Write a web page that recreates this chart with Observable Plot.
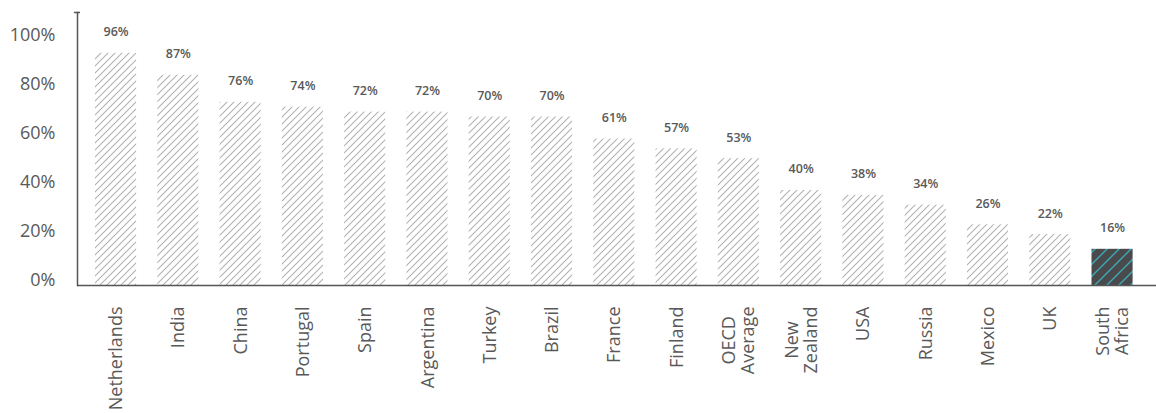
<!DOCTYPE html>
<html>
<head>
<meta charset="utf-8">
<script src="https://cdn.jsdelivr.net/npm/d3@7"></script>
<script src="https://cdn.jsdelivr.net/npm/@observablehq/plot@0.6"></script>
<style>
  html, body { margin: 0; padding: 0; background: #fff; }
  #chart { width: 1156px; height: 413px; overflow: hidden; }
  svg { font-family: "Open Sans", sans-serif; }
</style>
</head>
<body>
<div id="chart"></div>
<script>
const categories = ["Netherlands","India","China","Portugal","Spain","Argentina","Turkey","Brazil","France","Finland","OECD\nAverage","New\nZealand","USA","Russia","Mexico","UK","South\nAfrica"];
const values = [96,87,76,74,72,72,70,70,61,57,53,40,38,34,26,22,16];
const highlight = "South\nAfrica";
const yTicks = [0,20,40,60,80,100];
const yTop = 112.65;

const data = categories.map((c, i) => ({cat: c, value: values[i]}));
const textColor = "#595959";
const axisColor = "#555555";

const ctx = document.createElement("canvas").getContext("2d");
function maxLineWidth(label, size) {
  ctx.font = `${size}px "Open Sans"`;
  return d3.max(label.split("\n"), l => ctx.measureText(l).width);
}

function defs() {
  const d = d3.create("svg:defs");
  const g = d.append("pattern").attr("id", "hatchGray")
    .attr("patternUnits", "userSpaceOnUse").attr("width", 7).attr("height", 7);
  g.append("path").attr("d", "M0,7 L7,0 M-1,1 L1,-1 M6,8 L8,6")
    .attr("stroke", "#b0b0b0").attr("stroke-width", 1.05).attr("fill", "none");
  const k = d.append("pattern").attr("id", "hatchDark")
    .attr("patternUnits", "userSpaceOnUse").attr("width", 12).attr("height", 12);
  k.append("rect").attr("width", 12).attr("height", 12).attr("fill", "#4a4a4c");
  k.append("path").attr("d", "M0,12 L12,0 M-1,1 L1,-1 M11,13 L13,11")
    .attr("stroke", "#3aaab5").attr("stroke-width", 1.4).attr("fill", "none");
  return d.node();
}

const labelMarks = categories.map(c => {
  const size = 18;
  const multi = c.includes("\n");
  const dy = multi ? 18 + maxLineWidth(c, size) / 2 : 18;
  return Plot.text([c], {
    x: d => d, frameAnchor: "bottom", rotate: -90,
    textAnchor: multi ? "middle" : "end", lineAnchor: "middle",
    lineHeight: 1.05, dy, fontSize: size, fill: textColor
  });
});

const chart = Plot.plot({
  width: 1156,
  height: 413,
  marginLeft: 77,
  marginRight: 0,
  marginTop: 12,
  marginBottom: 125,
  style: {fontFamily: "'Open Sans', sans-serif", background: "#fff"},
  x: {domain: categories, paddingInner: 0.34, paddingOuter: 0.3325, align: 0.435, round: false, axis: null},
  y: {domain: [0, yTop], axis: null},
  marks: [
    defs,
    Plot.barY(data.filter(d => d.cat !== highlight), {x: "cat", y: "value", insetBottom: 3, fill: "url(#hatchGray)"}),
    Plot.barY(data.filter(d => d.cat === highlight), {x: "cat", y: "value", insetBottom: 3, fill: "url(#hatchDark)"}),
    Plot.text(data, {x: "cat", y: "value", text: d => d.value + "%", dy: -21, fontSize: 12.5, fontWeight: 600, fill: textColor}),
    Plot.axisY({ticks: yTicks, tickFormat: d => d + "%", tickSize: 0, tickPadding: 22, fontSize: 18, dy: -8, fill: textColor, label: null}),
    Plot.axisY({ticks: [yTop], tickFormat: () => "", tickSize: 6, dx: 3, stroke: axisColor, strokeWidth: 1.5, label: null}),
    Plot.frame({anchor: "left", insetBottom: 3, stroke: axisColor, strokeWidth: 1.5}),
    Plot.ruleY([0], {dy: -3, stroke: axisColor, strokeWidth: 1.5}),
    ...labelMarks
  ]
});
document.getElementById("chart").appendChild(chart);
</script>
</body>
</html>
